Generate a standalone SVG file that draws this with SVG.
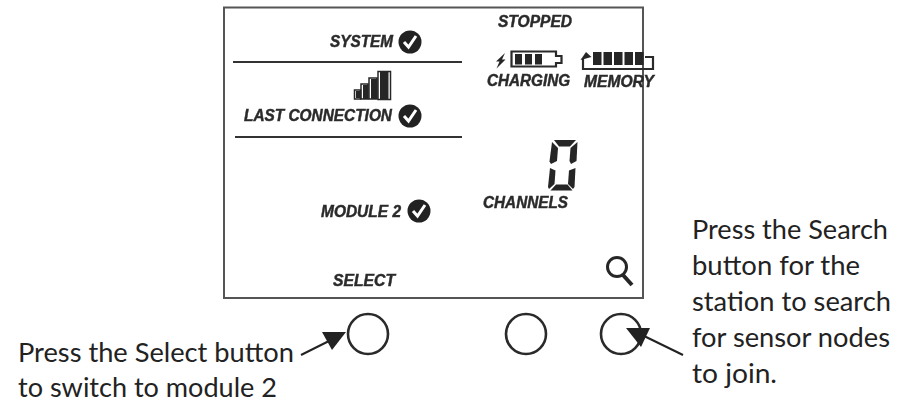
<svg xmlns="http://www.w3.org/2000/svg" width="909" height="404" viewBox="0 0 909 404">
<style>
.lcd{font-family:"Liberation Sans",Arial,sans-serif;font-weight:bold;font-style:italic;font-size:16px;fill:#2b2b2b;stroke:#2b2b2b;stroke-width:.45px}
.cap{font-family:Lato,"Liberation Sans",sans-serif;font-size:26.5px;fill:#222}
.rule{stroke:#333;stroke-width:2;fill:none}
.btn{fill:none;stroke:#2a2a2a;stroke-width:2.6}
.head{fill:#222}
.lead{stroke:#222;stroke-width:2;fill:none}
.seg{fill:#262626}
.soft{filter:url(#soft)}
</style>
<defs>
<filter id="soft" x="-10%" y="-10%" width="120%" height="120%"><feGaussianBlur stdDeviation="0.4"/></filter>
<g id="check">
<circle r="11.500" fill="#222"/>
<path d="M-6 0L-1.500 5L6 -6" fill="none" stroke="#fff" stroke-width="3"/>
</g>
</defs>
<rect width="909" height="404" fill="#fff"/>
<g id="display">
<rect x="224" y="7.500" width="419" height="290.500" fill="#fff" stroke="#555" stroke-width="2"/>
<line class="rule" x1="233" y1="62" x2="462" y2="62"/>
<line class="rule" x1="235" y1="137" x2="462" y2="137"/>
</g>
<g id="system" class="soft"><text class="lcd" x="330" y="47" textLength="63" lengthAdjust="spacingAndGlyphs">SYSTEM</text><use href="#check" x="410" y="42"/></g>
<g id="signal" class="soft" fill="#262626" stroke="#262626">
<path d="M354.500 90h6v9h-6z" fill="none" stroke-width="1.500"/><rect x="356" y="91" width="4" height="7" stroke="none"/>
<path d="M361 84h7v15h-7z" fill="none" stroke-width="1.500"/><rect x="363" y="85" width="5" height="14" stroke="none"/>
<path d="M369 78h8v21h-8z" fill="none" stroke-width="1.500"/><rect x="371" y="79" width="6" height="20" stroke="none"/>
<path d="M378 71.500h12.500v28h-12.500z" fill="none" stroke-width="1.500"/><rect x="380" y="72" width="8.500" height="27" stroke="none"/>
</g>
<g id="last-connection" class="soft"><text class="lcd" x="244" y="121" textLength="148" lengthAdjust="spacingAndGlyphs">LAST CONNECTION</text><use href="#check" x="410" y="116"/></g>
<g id="module-2" class="soft"><text class="lcd" x="321" y="217" textLength="80" lengthAdjust="spacingAndGlyphs">MODULE 2</text><use href="#check" x="419" y="211"/></g>
<g id="select" class="soft"><text class="lcd" x="333" y="286" textLength="62" lengthAdjust="spacingAndGlyphs">SELECT</text></g>
<g id="stopped" class="soft"><text class="lcd" x="498" y="26.500" textLength="74" lengthAdjust="spacingAndGlyphs">STOPPED</text></g>
<g id="charging" class="soft">
<path class="seg" d="M505 53L496 61.500H499.500L496.500 68.500L505.500 59.500H502z"/>
<path d="M511.500 51.500H556V56H561.500V63H556V66.500H511.500z" fill="none" stroke="#2a2a2a" stroke-width="2.200"/>
<rect x="515" y="54" width="7" height="10.500" class="seg"/><rect x="525" y="54" width="7" height="10.500" class="seg"/><rect x="535" y="54" width="7" height="10.500" class="seg"/>
<text class="lcd" x="487" y="86" textLength="83" lengthAdjust="spacingAndGlyphs">CHARGING</text>
</g>
<g id="memory" class="soft">
<rect x="593" y="52" width="8.500" height="13" class="seg"/><rect x="603.500" y="52" width="8.500" height="13" class="seg"/><rect x="614" y="52" width="8.500" height="13" class="seg"/><rect x="624.500" y="52" width="8.500" height="13" class="seg"/><rect x="635" y="52" width="8.500" height="13" class="seg"/>
<path d="M583 58V69H653V57H645" fill="none" stroke="#2a2a2a" stroke-width="2.200"/>
<path class="seg" d="M580.500 60L586 52L591.500 57z"/>
<text class="lcd" x="584" y="86.500" textLength="70" lengthAdjust="spacingAndGlyphs">MEMORY</text>
</g>
<g id="channels" class="soft">
<path class="seg" d="M554 140H576L570 146.500H559z"/>
<path class="seg" d="M552 142L558 148L557 161L551 164L549.500 161.500z"/>
<path class="seg" d="M577.500 142L576.500 161L571 164L569.500 161L570.500 148z"/>
<path class="seg" d="M550 168L555.500 170.500L554.500 184L549 189L548 187z"/>
<path class="seg" d="M575.500 168L574.500 187L573 189L568 184L569 170.500z"/>
<path class="seg" d="M550.500 190.500L556 184.500H567.500L572.500 190.500z"/>
<text class="lcd" x="483" y="208" textLength="85" lengthAdjust="spacingAndGlyphs">CHANNELS</text>
</g>
<g id="search-icon" class="soft">
<circle cx="617" cy="267" r="9.500" fill="none" stroke="#262626" stroke-width="3"/>
<path d="M623 275L632 285" stroke="#262626" stroke-width="4" fill="none"/>
</g>
<g id="select-button"><circle class="btn" cx="368" cy="334" r="20"/></g>
<g id="middle-button"><circle class="btn" cx="526" cy="334" r="20"/></g>
<g id="search-button"><circle class="btn" cx="621" cy="334" r="20"/></g>
<g id="connectors">
<line class="lead" x1="301" y1="355" x2="335" y2="338"/>
<polygon class="head" points="322,332 346,332 332,350"/>
<line class="lead" x1="683" y1="355" x2="642" y2="335"/>
<polygon class="head" points="626,328 650,328 641,347"/>
</g>
<g id="select-caption">
<text class="cap" x="18" y="362" textLength="276" lengthAdjust="spacingAndGlyphs">Press the Select button</text>
<text class="cap" x="18" y="397" textLength="259" lengthAdjust="spacingAndGlyphs">to switch to module 2</text>
</g>
<g id="search-caption">
<text class="cap" x="692" y="239" textLength="196" lengthAdjust="spacingAndGlyphs">Press the Search</text>
<text class="cap" x="692" y="275" textLength="168" lengthAdjust="spacingAndGlyphs">button for the</text>
<text class="cap" x="692" y="311" textLength="199" lengthAdjust="spacingAndGlyphs">station to search</text>
<text class="cap" x="692" y="347" textLength="198" lengthAdjust="spacingAndGlyphs">for sensor nodes</text>
<text class="cap" x="692" y="383" textLength="85" lengthAdjust="spacingAndGlyphs">to join.</text>
</g>
</svg>
